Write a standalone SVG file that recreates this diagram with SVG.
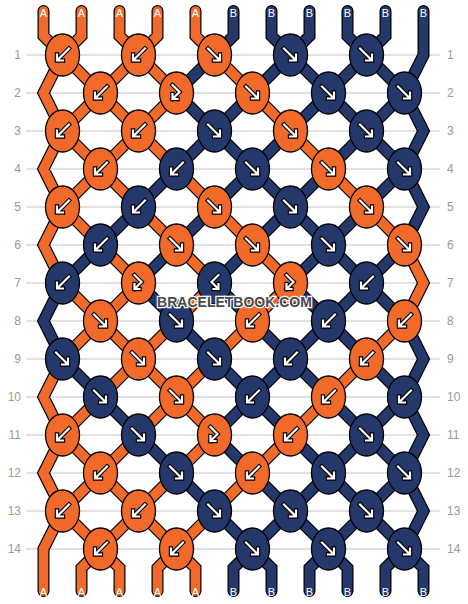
<svg xmlns="http://www.w3.org/2000/svg" xmlns:xlink="http://www.w3.org/1999/xlink" width="468" height="604" viewBox="0 0 468 604">
<style>
.grid{stroke:#c4c4c4;stroke-width:1}
.rl{font-family:"Liberation Sans",Arial,sans-serif;font-size:12px;fill:#999}
.ol{fill:none;stroke:#000;stroke-width:12;stroke-linecap:round}
.so{fill:none;stroke:#f26a2a;stroke-width:9.6;stroke-linecap:round}
.sn{fill:none;stroke:#24386b;stroke-width:9.6;stroke-linecap:round}
.ko{fill:#f26a2a;stroke:#000;stroke-width:1.3}
.kn{fill:#24386b;stroke:#000;stroke-width:1.3}
.ab{fill:none;stroke:#000;stroke-width:4.4;stroke-linecap:square}
.aw{fill:none;stroke:#fff;stroke-width:2.2;stroke-linecap:square}
.sl{font-family:"Liberation Sans",Arial,sans-serif;font-size:11px;fill:#fff;text-anchor:middle}
.wm{font-family:"Liberation Sans",Arial,sans-serif;font-size:14px;font-weight:bold;fill:#4a4a4a;stroke:#fff;stroke-width:2.4;paint-order:stroke;text-anchor:middle}
</style>
<defs>
<path id="pF" d="M-6.5 -6.5L5 5M-0.5 5.5H5.5V-0.5"/>
<path id="pB" d="M6.5 -6.5L-5 5M0.5 5.5H-5.5V-0.5"/>
<path id="pFB" d="M-4 -8L3 -1L-4 6M-4 1V6H1"/>
<path id="pBF" d="M4 -8L-3 -1L4 6M4 1V6H-1"/>
<g id="aF"><use xlink:href="#pF" class="ab"/><use xlink:href="#pF" class="aw"/></g>
<g id="aB"><use xlink:href="#pB" class="ab"/><use xlink:href="#pB" class="aw"/></g>
<g id="aFB"><use xlink:href="#pFB" class="ab"/><use xlink:href="#pFB" class="aw"/></g>
<g id="aBF"><use xlink:href="#pBF" class="ab"/><use xlink:href="#pBF" class="aw"/></g>
<path id="strO" d="M43.5 11V36L62.5 55M81.5 11V36L62.5 55M119.5 11V36L138.5 55M157.5 11V36L138.5 55M195.5 11V36L214.5 55
M62.5 55L100.5 93M138.5 55L100.5 93M138.5 55L176.5 93M214.5 55L252.5 93M62.5 55L43.5 93L62.5 131
M100.5 93L62.5 131M100.5 93L138.5 131M176.5 93L138.5 131M252.5 93L290.5 131
M62.5 131L100.5 169M138.5 131L100.5 169M138.5 131L176.5 169M290.5 131L328.5 169M62.5 131L43.5 169L62.5 207
M100.5 169L62.5 207M100.5 169L138.5 207M176.5 169L214.5 207M328.5 169L366.5 207
M62.5 207L100.5 245M138.5 207L176.5 245M214.5 207L252.5 245M366.5 207L404.5 245M62.5 207L43.5 245L62.5 283
M100.5 245L138.5 283M176.5 245L214.5 283M252.5 245L290.5 283M404.5 245L423.5 283L404.5 321
M62.5 283L100.5 321M138.5 283L100.5 321M214.5 283L176.5 321M290.5 283L252.5 321
M100.5 321L62.5 359M100.5 321L138.5 359M176.5 321L138.5 359M252.5 321L214.5 359M404.5 321L366.5 359
M138.5 359L100.5 397M138.5 359L176.5 397M214.5 359L176.5 397M366.5 359L328.5 397M62.5 359L43.5 397L62.5 435
M100.5 397L62.5 435M176.5 397L138.5 435M176.5 397L214.5 435M328.5 397L290.5 435
M62.5 435L100.5 473M138.5 435L100.5 473M214.5 435L176.5 473M290.5 435L252.5 473M62.5 435L43.5 473L62.5 511
M100.5 473L62.5 511M100.5 473L138.5 511M176.5 473L138.5 511M252.5 473L214.5 511
M62.5 511L100.5 549M138.5 511L100.5 549M138.5 511L176.5 549M214.5 511L176.5 549M62.5 511L43.5 549V591
M100.5 549L81.5 568V591M100.5 549L119.5 568V591M176.5 549L157.5 568V591M176.5 549L195.5 568V591"/>
<path id="strN" d="M233.5 11V36L214.5 55M271.5 11V36L290.5 55M309.5 11V36L290.5 55M347.5 11V36L366.5 55M385.5 11V36L366.5 55M423.5 11V55L404.5 93
M214.5 55L176.5 93M290.5 55L252.5 93M290.5 55L328.5 93M366.5 55L328.5 93M366.5 55L404.5 93
M176.5 93L214.5 131M252.5 93L214.5 131M328.5 93L290.5 131M328.5 93L366.5 131M404.5 93L366.5 131M404.5 93L423.5 131L404.5 169
M214.5 131L176.5 169M214.5 131L252.5 169M290.5 131L252.5 169M366.5 131L328.5 169M366.5 131L404.5 169
M176.5 169L138.5 207M252.5 169L214.5 207M252.5 169L290.5 207M328.5 169L290.5 207M404.5 169L366.5 207M404.5 169L423.5 207L404.5 245
M138.5 207L100.5 245M214.5 207L176.5 245M290.5 207L252.5 245M290.5 207L328.5 245M366.5 207L328.5 245
M100.5 245L62.5 283M176.5 245L138.5 283M252.5 245L214.5 283M328.5 245L290.5 283M328.5 245L366.5 283M404.5 245L366.5 283
M138.5 283L176.5 321M214.5 283L252.5 321M290.5 283L328.5 321M366.5 283L328.5 321M366.5 283L404.5 321M62.5 283L43.5 321L62.5 359
M176.5 321L214.5 359M252.5 321L290.5 359M328.5 321L290.5 359M328.5 321L366.5 359M404.5 321L423.5 359L404.5 397
M62.5 359L100.5 397M214.5 359L252.5 397M290.5 359L252.5 397M290.5 359L328.5 397M366.5 359L404.5 397
M100.5 397L138.5 435M252.5 397L214.5 435M252.5 397L290.5 435M328.5 397L366.5 435M404.5 397L366.5 435M404.5 397L423.5 435L404.5 473
M138.5 435L176.5 473M214.5 435L252.5 473M290.5 435L328.5 473M366.5 435L328.5 473M366.5 435L404.5 473
M176.5 473L214.5 511M252.5 473L290.5 511M328.5 473L290.5 511M328.5 473L366.5 511M404.5 473L366.5 511M404.5 473L423.5 511L404.5 549
M214.5 511L252.5 549M290.5 511L252.5 549M290.5 511L328.5 549M366.5 511L328.5 549M366.5 511L404.5 549
M252.5 549L233.5 568V591M252.5 549L271.5 568V591M328.5 549L309.5 568V591M328.5 549L347.5 568V591M404.5 549L385.5 568V591M404.5 549L423.5 568V591"/>
</defs>
<rect width="468" height="604" fill="#fff"/>
<g id="grid" class="grid">
<path d="M26 55H440M26 93H440M26 131H440M26 169H440M26 207H440M26 245H440M26 283H440M26 321H440M26 359H440M26 397H440M26 435H440M26 473H440M26 511H440M26 549H440"/>
</g>
<g id="row-labels" class="rl">
<g text-anchor="end">
<text x="21" y="59.3">1</text><text x="21" y="97.3">2</text><text x="21" y="135.3">3</text><text x="21" y="173.3">4</text><text x="21" y="211.3">5</text><text x="21" y="249.3">6</text><text x="21" y="287.3">7</text><text x="21" y="325.3">8</text><text x="21" y="363.3">9</text><text x="21" y="401.3">10</text><text x="21" y="439.3">11</text><text x="21" y="477.3">12</text><text x="21" y="515.3">13</text><text x="21" y="553.3">14</text>
</g>
<g>
<text x="447" y="59.3">1</text><text x="447" y="97.3">2</text><text x="447" y="135.3">3</text><text x="447" y="173.3">4</text><text x="447" y="211.3">5</text><text x="447" y="249.3">6</text><text x="447" y="287.3">7</text><text x="447" y="325.3">8</text><text x="447" y="363.3">9</text><text x="447" y="401.3">10</text><text x="447" y="439.3">11</text><text x="447" y="477.3">12</text><text x="447" y="515.3">13</text><text x="447" y="553.3">14</text>
</g>
</g>
<g id="connectors">
<use xlink:href="#strO" class="ol"/>
<use xlink:href="#strN" class="ol"/>
<use xlink:href="#strO" class="so"/>
<use xlink:href="#strN" class="sn"/>
</g>
<g id="string-labels" class="sl">
<text x="43.5" y="17">A</text><text x="81.5" y="17">A</text><text x="119.5" y="17">A</text><text x="157.5" y="17">A</text><text x="195.5" y="17">A</text><text x="233.5" y="17">B</text><text x="271.5" y="17">B</text><text x="309.5" y="17">B</text><text x="347.5" y="17">B</text><text x="385.5" y="17">B</text><text x="423.5" y="17">B</text>
<text x="43.5" y="596">A</text><text x="81.5" y="596">A</text><text x="119.5" y="596">A</text><text x="157.5" y="596">A</text><text x="195.5" y="596">A</text><text x="233.5" y="596">B</text><text x="271.5" y="596">B</text><text x="309.5" y="596">B</text><text x="347.5" y="596">B</text><text x="385.5" y="596">B</text><text x="423.5" y="596">B</text>
</g>
<g id="knots">
<g id="k1-1"><ellipse class="ko" cx="62.5" cy="55" rx="17" ry="21"/><use xlink:href="#aB" x="62.5" y="55"/></g>
<g id="k1-2"><ellipse class="ko" cx="138.5" cy="55" rx="17" ry="21"/><use xlink:href="#aB" x="138.5" y="55"/></g>
<g id="k1-3"><ellipse class="ko" cx="214.5" cy="55" rx="17" ry="21"/><use xlink:href="#aF" x="214.5" y="55"/></g>
<g id="k1-4"><ellipse class="kn" cx="290.5" cy="55" rx="17" ry="21"/><use xlink:href="#aF" x="290.5" y="55"/></g>
<g id="k1-5"><ellipse class="kn" cx="366.5" cy="55" rx="17" ry="21"/><use xlink:href="#aF" x="366.5" y="55"/></g>
<g id="k2-1"><ellipse class="ko" cx="100.5" cy="93" rx="17" ry="21"/><use xlink:href="#aB" x="100.5" y="93"/></g>
<g id="k2-2"><ellipse class="ko" cx="176.5" cy="93" rx="17" ry="21"/><use xlink:href="#aFB" x="176.5" y="93"/></g>
<g id="k2-3"><ellipse class="ko" cx="252.5" cy="93" rx="17" ry="21"/><use xlink:href="#aF" x="252.5" y="93"/></g>
<g id="k2-4"><ellipse class="kn" cx="328.5" cy="93" rx="17" ry="21"/><use xlink:href="#aF" x="328.5" y="93"/></g>
<g id="k2-5"><ellipse class="kn" cx="404.5" cy="93" rx="17" ry="21"/><use xlink:href="#aF" x="404.5" y="93"/></g>
<g id="k3-1"><ellipse class="ko" cx="62.5" cy="131" rx="17" ry="21"/><use xlink:href="#aB" x="62.5" y="131"/></g>
<g id="k3-2"><ellipse class="ko" cx="138.5" cy="131" rx="17" ry="21"/><use xlink:href="#aB" x="138.5" y="131"/></g>
<g id="k3-3"><ellipse class="kn" cx="214.5" cy="131" rx="17" ry="21"/><use xlink:href="#aF" x="214.5" y="131"/></g>
<g id="k3-4"><ellipse class="ko" cx="290.5" cy="131" rx="17" ry="21"/><use xlink:href="#aF" x="290.5" y="131"/></g>
<g id="k3-5"><ellipse class="kn" cx="366.5" cy="131" rx="17" ry="21"/><use xlink:href="#aF" x="366.5" y="131"/></g>
<g id="k4-1"><ellipse class="ko" cx="100.5" cy="169" rx="17" ry="21"/><use xlink:href="#aB" x="100.5" y="169"/></g>
<g id="k4-2"><ellipse class="kn" cx="176.5" cy="169" rx="17" ry="21"/><use xlink:href="#aB" x="176.5" y="169"/></g>
<g id="k4-3"><ellipse class="kn" cx="252.5" cy="169" rx="17" ry="21"/><use xlink:href="#aF" x="252.5" y="169"/></g>
<g id="k4-4"><ellipse class="ko" cx="328.5" cy="169" rx="17" ry="21"/><use xlink:href="#aF" x="328.5" y="169"/></g>
<g id="k4-5"><ellipse class="kn" cx="404.5" cy="169" rx="17" ry="21"/><use xlink:href="#aF" x="404.5" y="169"/></g>
<g id="k5-1"><ellipse class="ko" cx="62.5" cy="207" rx="17" ry="21"/><use xlink:href="#aB" x="62.5" y="207"/></g>
<g id="k5-2"><ellipse class="kn" cx="138.5" cy="207" rx="17" ry="21"/><use xlink:href="#aB" x="138.5" y="207"/></g>
<g id="k5-3"><ellipse class="ko" cx="214.5" cy="207" rx="17" ry="21"/><use xlink:href="#aF" x="214.5" y="207"/></g>
<g id="k5-4"><ellipse class="kn" cx="290.5" cy="207" rx="17" ry="21"/><use xlink:href="#aF" x="290.5" y="207"/></g>
<g id="k5-5"><ellipse class="ko" cx="366.5" cy="207" rx="17" ry="21"/><use xlink:href="#aF" x="366.5" y="207"/></g>
<g id="k6-1"><ellipse class="kn" cx="100.5" cy="245" rx="17" ry="21"/><use xlink:href="#aB" x="100.5" y="245"/></g>
<g id="k6-2"><ellipse class="ko" cx="176.5" cy="245" rx="17" ry="21"/><use xlink:href="#aF" x="176.5" y="245"/></g>
<g id="k6-3"><ellipse class="ko" cx="252.5" cy="245" rx="17" ry="21"/><use xlink:href="#aF" x="252.5" y="245"/></g>
<g id="k6-4"><ellipse class="kn" cx="328.5" cy="245" rx="17" ry="21"/><use xlink:href="#aF" x="328.5" y="245"/></g>
<g id="k6-5"><ellipse class="ko" cx="404.5" cy="245" rx="17" ry="21"/><use xlink:href="#aF" x="404.5" y="245"/></g>
<g id="k7-1"><ellipse class="kn" cx="62.5" cy="283" rx="17" ry="21"/><use xlink:href="#aB" x="62.5" y="283"/></g>
<g id="k7-2"><ellipse class="ko" cx="138.5" cy="283" rx="17" ry="21"/><use xlink:href="#aFB" x="138.5" y="283"/></g>
<g id="k7-3"><ellipse class="kn" cx="214.5" cy="283" rx="17" ry="21"/><use xlink:href="#aBF" x="214.5" y="283"/></g>
<g id="k7-4"><ellipse class="ko" cx="290.5" cy="283" rx="17" ry="21"/><use xlink:href="#aFB" x="290.5" y="283"/></g>
<g id="k7-5"><ellipse class="kn" cx="366.5" cy="283" rx="17" ry="21"/><use xlink:href="#aB" x="366.5" y="283"/></g>
<g id="k8-1"><ellipse class="ko" cx="100.5" cy="321" rx="17" ry="21"/><use xlink:href="#aF" x="100.5" y="321"/></g>
<g id="k8-2"><ellipse class="kn" cx="176.5" cy="321" rx="17" ry="21"/><use xlink:href="#aF" x="176.5" y="321"/></g>
<g id="k8-3"><ellipse class="ko" cx="252.5" cy="321" rx="17" ry="21"/><use xlink:href="#aB" x="252.5" y="321"/></g>
<g id="k8-4"><ellipse class="kn" cx="328.5" cy="321" rx="17" ry="21"/><use xlink:href="#aB" x="328.5" y="321"/></g>
<g id="k8-5"><ellipse class="ko" cx="404.5" cy="321" rx="17" ry="21"/><use xlink:href="#aB" x="404.5" y="321"/></g>
<g id="k9-1"><ellipse class="kn" cx="62.5" cy="359" rx="17" ry="21"/><use xlink:href="#aF" x="62.5" y="359"/></g>
<g id="k9-2"><ellipse class="ko" cx="138.5" cy="359" rx="17" ry="21"/><use xlink:href="#aF" x="138.5" y="359"/></g>
<g id="k9-3"><ellipse class="kn" cx="214.5" cy="359" rx="17" ry="21"/><use xlink:href="#aF" x="214.5" y="359"/></g>
<g id="k9-4"><ellipse class="kn" cx="290.5" cy="359" rx="17" ry="21"/><use xlink:href="#aB" x="290.5" y="359"/></g>
<g id="k9-5"><ellipse class="ko" cx="366.5" cy="359" rx="17" ry="21"/><use xlink:href="#aB" x="366.5" y="359"/></g>
<g id="k10-1"><ellipse class="kn" cx="100.5" cy="397" rx="17" ry="21"/><use xlink:href="#aF" x="100.5" y="397"/></g>
<g id="k10-2"><ellipse class="ko" cx="176.5" cy="397" rx="17" ry="21"/><use xlink:href="#aF" x="176.5" y="397"/></g>
<g id="k10-3"><ellipse class="kn" cx="252.5" cy="397" rx="17" ry="21"/><use xlink:href="#aB" x="252.5" y="397"/></g>
<g id="k10-4"><ellipse class="ko" cx="328.5" cy="397" rx="17" ry="21"/><use xlink:href="#aB" x="328.5" y="397"/></g>
<g id="k10-5"><ellipse class="kn" cx="404.5" cy="397" rx="17" ry="21"/><use xlink:href="#aB" x="404.5" y="397"/></g>
<g id="k11-1"><ellipse class="ko" cx="62.5" cy="435" rx="17" ry="21"/><use xlink:href="#aB" x="62.5" y="435"/></g>
<g id="k11-2"><ellipse class="kn" cx="138.5" cy="435" rx="17" ry="21"/><use xlink:href="#aF" x="138.5" y="435"/></g>
<g id="k11-3"><ellipse class="ko" cx="214.5" cy="435" rx="17" ry="21"/><use xlink:href="#aFB" x="214.5" y="435"/></g>
<g id="k11-4"><ellipse class="ko" cx="290.5" cy="435" rx="17" ry="21"/><use xlink:href="#aB" x="290.5" y="435"/></g>
<g id="k11-5"><ellipse class="kn" cx="366.5" cy="435" rx="17" ry="21"/><use xlink:href="#aF" x="366.5" y="435"/></g>
<g id="k12-1"><ellipse class="ko" cx="100.5" cy="473" rx="17" ry="21"/><use xlink:href="#aB" x="100.5" y="473"/></g>
<g id="k12-2"><ellipse class="kn" cx="176.5" cy="473" rx="17" ry="21"/><use xlink:href="#aF" x="176.5" y="473"/></g>
<g id="k12-3"><ellipse class="ko" cx="252.5" cy="473" rx="17" ry="21"/><use xlink:href="#aB" x="252.5" y="473"/></g>
<g id="k12-4"><ellipse class="kn" cx="328.5" cy="473" rx="17" ry="21"/><use xlink:href="#aF" x="328.5" y="473"/></g>
<g id="k12-5"><ellipse class="kn" cx="404.5" cy="473" rx="17" ry="21"/><use xlink:href="#aF" x="404.5" y="473"/></g>
<g id="k13-1"><ellipse class="ko" cx="62.5" cy="511" rx="17" ry="21"/><use xlink:href="#aB" x="62.5" y="511"/></g>
<g id="k13-2"><ellipse class="ko" cx="138.5" cy="511" rx="17" ry="21"/><use xlink:href="#aB" x="138.5" y="511"/></g>
<g id="k13-3"><ellipse class="kn" cx="214.5" cy="511" rx="17" ry="21"/><use xlink:href="#aF" x="214.5" y="511"/></g>
<g id="k13-4"><ellipse class="kn" cx="290.5" cy="511" rx="17" ry="21"/><use xlink:href="#aF" x="290.5" y="511"/></g>
<g id="k13-5"><ellipse class="kn" cx="366.5" cy="511" rx="17" ry="21"/><use xlink:href="#aF" x="366.5" y="511"/></g>
<g id="k14-1"><ellipse class="ko" cx="100.5" cy="549" rx="17" ry="21"/><use xlink:href="#aB" x="100.5" y="549"/></g>
<g id="k14-2"><ellipse class="ko" cx="176.5" cy="549" rx="17" ry="21"/><use xlink:href="#aB" x="176.5" y="549"/></g>
<g id="k14-3"><ellipse class="kn" cx="252.5" cy="549" rx="17" ry="21"/><use xlink:href="#aF" x="252.5" y="549"/></g>
<g id="k14-4"><ellipse class="kn" cx="328.5" cy="549" rx="17" ry="21"/><use xlink:href="#aF" x="328.5" y="549"/></g>
<g id="k14-5"><ellipse class="kn" cx="404.5" cy="549" rx="17" ry="21"/><use xlink:href="#aF" x="404.5" y="549"/></g>
</g>
<text id="watermark" class="wm" x="234.5" y="306.5">BRACELETBOOK.COM</text>
</svg>
